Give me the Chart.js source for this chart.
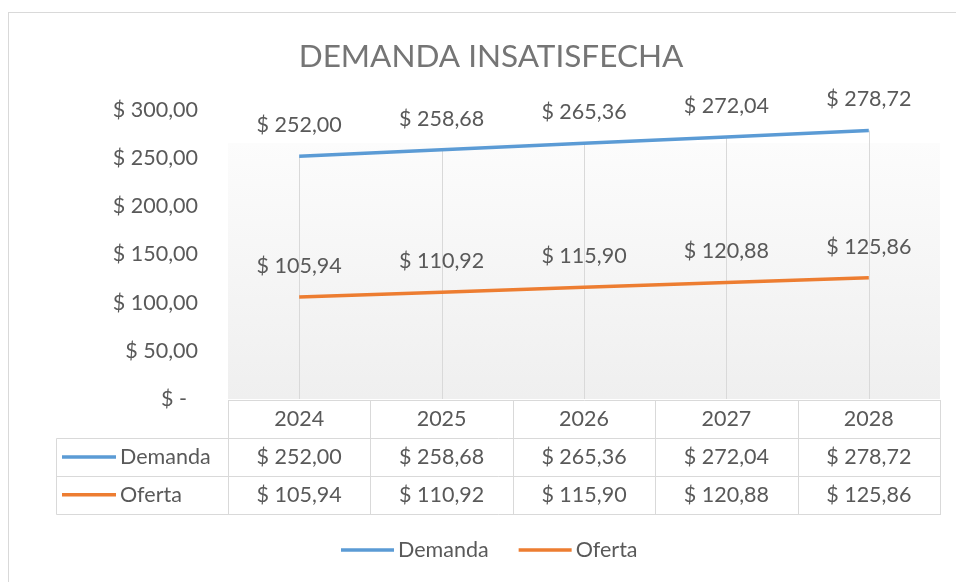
<!DOCTYPE html>
<html>
<head>
<meta charset="utf-8">
<script src="https://cdn.jsdelivr.net/npm/chart.js@4"></script>
<style>
  html, body { margin: 0; padding: 0; background: #fff; }
  canvas { display: block; }
</style>
</head>
<body>
<canvas id="myChart" width="956" height="582"></canvas>
<script>
// chart data
var years = ['2024', '2025', '2026', '2027', '2028'];
var demanda = [252.00, 258.68, 265.36, 272.04, 278.72];
var oferta = [105.94, 110.92, 115.90, 120.88, 125.86];
var seriesNames = ['Demanda', 'Oferta'];
var chartTitle = 'DEMANDA INSATISFECHA';
var yTicks = [0, 50, 100, 150, 200, 250, 300];

var FONT = 'Lato, "Open Sans", sans-serif';
var FS = 21.5;
var TEXT = '#595959';
var LINE_GRAY = '#d9d9d9';

function money(v) {
    if (v === 0) return '$ -  ';
    return '$ ' + v.toFixed(2).replace('.', ',');
}

// draws frame, title, plot background, drop lines, data labels, data table and legend
var excelLook = {
    id: 'excelLook',
    beforeDraw: function (chart) {
        var ctx = chart.ctx, a = chart.chartArea;
        ctx.save();
        ctx.fillStyle = '#fff';
        ctx.fillRect(0, 0, chart.width, chart.height);
        ctx.strokeStyle = LINE_GRAY;
        ctx.lineWidth = 1;
        ctx.strokeRect(8.5, 12.5, 1200, 1200);
        // plot area fill
        var top = a.top + 33;
        var g = ctx.createLinearGradient(0, top, 0, a.bottom);
        g.addColorStop(0, '#fcfcfc');
        g.addColorStop(1, '#efefef');
        ctx.fillStyle = g;
        ctx.fillRect(a.left, top, a.right - a.left, a.bottom - top);
        // title
        ctx.fillStyle = '#757575';
        ctx.font = '31.5px ' + FONT;
        ctx.textAlign = 'center';
        ctx.textBaseline = 'middle';
        ctx.fillText(chartTitle, 491, 57);
        ctx.restore();
    },
    beforeDatasetsDraw: function (chart) {
        // drop lines from highest point to axis
        var ctx = chart.ctx, a = chart.chartArea;
        var m0 = chart.getDatasetMeta(0).data;
        var m1 = chart.getDatasetMeta(1).data;
        ctx.save();
        ctx.strokeStyle = LINE_GRAY;
        ctx.lineWidth = 1;
        for (var i = 0; i < m0.length; i++) {
            var x = Math.round(m0[i].x) + 0.5;
            var y = Math.min(m0[i].y, m1[i].y);
            ctx.beginPath();
            ctx.moveTo(x, y);
            ctx.lineTo(x, a.bottom);
            ctx.stroke();
        }
        ctx.restore();
    },
    afterDatasetsDraw: function (chart) {
        var ctx = chart.ctx;
        ctx.save();
        ctx.fillStyle = TEXT;
        ctx.font = FS + 'px ' + FONT;
        ctx.textAlign = 'center';
        ctx.textBaseline = 'middle';
        chart.data.datasets.forEach(function (ds, di) {
            chart.getDatasetMeta(di).data.forEach(function (pt, i) {
                ctx.fillText(money(ds.data[i]), pt.x, pt.y - 31);
            });
        });
        ctx.restore();
    },
    afterDraw: function (chart) {
        var ctx = chart.ctx, a = chart.chartArea;
        var xs = chart.scales.x;
        var n = chart.data.labels.length;
        var half = (a.right - a.left) / n / 2;
        var rowH = 37.7;
        var top = a.bottom + 1.5;
        var left = 56.5;
        ctx.save();
        ctx.strokeStyle = LINE_GRAY;
        ctx.lineWidth = 1;
        // horizontal table lines
        ctx.beginPath();
        ctx.moveTo(a.left, top); ctx.lineTo(a.right + 1, top);
        for (var r = 1; r <= 3; r++) {
            var yy = Math.round(top + r * rowH) + 0.5;
            ctx.moveTo(left, yy); ctx.lineTo(a.right + 1, yy);
        }
        // vertical table lines
        var bottom = Math.round(top + 3 * rowH) + 0.5;
        for (var i = 0; i <= n; i++) {
            var x = Math.round(xs.getPixelForValue(i) - half) + 0.5;
            if (i === n) x = Math.round(xs.getPixelForValue(n - 1) + half) + 0.5;
            ctx.moveTo(x, top); ctx.lineTo(x, bottom);
        }
        ctx.moveTo(left, Math.round(top + rowH) + 0.5); ctx.lineTo(left, bottom);
        ctx.stroke();

        ctx.fillStyle = TEXT;
        ctx.font = FS + 'px ' + FONT;
        ctx.textBaseline = 'middle';
        ctx.textAlign = 'center';
        chart.data.labels.forEach(function (lab, i) {
            ctx.fillText(lab, xs.getPixelForValue(i), top + rowH / 2);
        });
        chart.data.datasets.forEach(function (ds, di) {
            var cy = top + rowH * (di + 1.5);
            ctx.textAlign = 'center';
            ctx.fillStyle = TEXT;
            ds.data.forEach(function (v, i) {
                ctx.fillText(money(v), xs.getPixelForValue(i), cy);
            });
            // row key
            ctx.strokeStyle = ds.borderColor;
            ctx.lineWidth = 3.5;
            ctx.beginPath();
            ctx.moveTo(62, cy); ctx.lineTo(116, cy);
            ctx.stroke();
            ctx.textAlign = 'left';
            ctx.fillText(ds.label, 120, cy);
        });

        // legend
        var ly = 550;
        var lx = 341;
        chart.data.datasets.forEach(function (ds) {
            ctx.strokeStyle = ds.borderColor;
            ctx.lineWidth = 3.5;
            ctx.beginPath();
            ctx.moveTo(lx, ly); ctx.lineTo(lx + 53, ly);
            ctx.stroke();
            ctx.fillStyle = TEXT;
            ctx.textAlign = 'left';
            ctx.fillText(ds.label, lx + 57, ly);
            lx += 57 + ctx.measureText(ds.label).width + 30;
        });
        ctx.restore();
    }
};

window.onload = function () {
    var ctx = document.getElementById('myChart').getContext('2d');
    new Chart(ctx, {
        type: 'line',
        data: {
            labels: years,
            datasets: [{
                label: seriesNames[0],
                data: demanda,
                borderColor: '#5b9bd5',
                backgroundColor: '#5b9bd5',
                borderWidth: 3.5,
                pointRadius: 0,
                tension: 0
            }, {
                label: seriesNames[1],
                data: oferta,
                borderColor: '#ed7d31',
                backgroundColor: '#ed7d31',
                borderWidth: 3.5,
                pointRadius: 0,
                tension: 0
            }]
        },
        options: {
            responsive: false,
            animation: false,
            layout: { padding: { left: 0, top: 110, right: 16, bottom: 183 } },
            plugins: {
                legend: { display: false },
                title: { display: false },
                tooltip: { enabled: false }
            },
            scales: {
                x: {
                    offset: true,
                    grid: { display: false, drawTicks: false },
                    border: { display: false },
                    ticks: { display: false },
                    afterFit: function (s) { s.height = 0; }
                },
                y: {
                    min: 0,
                    max: 300,
                    grid: { display: false },
                    border: { display: false },
                    afterFit: function (s) { s.width = 228; },
                    afterBuildTicks: function (s) {
                        s.ticks = yTicks.map(function (v) { return { value: v }; });
                    },
                    ticks: {
                        padding: 22,
                        color: TEXT,
                        font: { family: FONT, size: FS },
                        callback: function (v) { return money(v); }
                    }
                }
            }
        },
        plugins: [excelLook]
    });
};
</script>
</body>
</html>
